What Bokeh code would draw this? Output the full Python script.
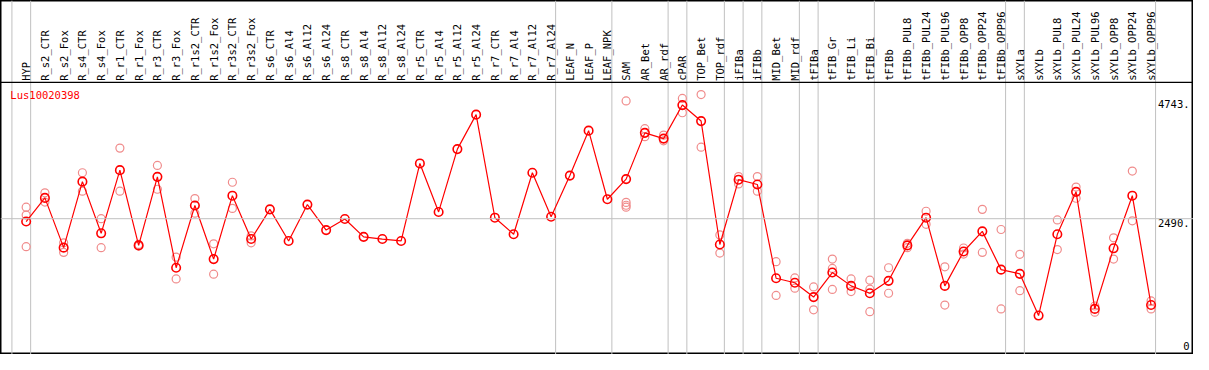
import math
from bokeh.plotting import figure
from bokeh.models import Range1d, Span, ColumnDataSource
from bokeh.core.properties import value
from bokeh.embed import file_html
from bokeh.resources import INLINE

# ---------------- data ----------------
categories = ["HYP", "R_s2_CTR", "R_s2_Fox", "R_s4_CTR", "R_s4_Fox", "R_r1_CTR", "R_r1_Fox",
              "R_r3_CTR", "R_r3_Fox", "R_r1s2_CTR", "R_r1s2_Fox", "R_r3s2_CTR", "R_r3s2_Fox",
              "R_s6_CTR", "R_s6_Al4", "R_s6_Al12", "R_s6_Al24", "R_s8_CTR", "R_s8_Al4",
              "R_s8_Al12", "R_s8_Al24", "R_r5_CTR", "R_r5_Al4", "R_r5_Al12", "R_r5_Al24",
              "R_r7_CTR", "R_r7_Al4", "R_r7_Al12", "R_r7_Al24", "LEAF_N", "LEAF_P", "LEAF_NPK",
              "SAM", "AR_Bet", "AR_rdf", "cPAR", "TOP_Bet", "TOP_rdf", "iFIBa", "iFIBb",
              "MID_Bet", "MID_rdf", "tFIBa", "tFIB_Gr", "tFIB_Li", "tFIB_Bi", "tFIBb",
              "tFIBb_PUL8", "tFIBb_PUL24", "tFIBb_PUL96", "tFIBb_OPP8", "tFIBb_OPP24",
              "tFIBb_OPP96", "sXYLa", "sXYLb", "sXYLb_PUL8", "sXYLb_PUL24", "sXYLb_PUL96",
              "sXYLb_OPP8", "sXYLb_OPP24", "sXYLb_OPP96"]

means = [2436, 2885, 1940, 3194, 2212, 3412, 1982, 3285, 1558, 2740, 1722, 2927, 2103,
         2667, 2067, 2758, 2273, 2485, 2145, 2103, 2067, 3540, 2618, 3812, 4467, 2509,
         2194, 3363, 2527, 3309, 4163, 2860, 3242, 4121, 4012, 4649, 4345, 2000, 3231,
         3140, 1358, 1273, 1000, 1467, 1213, 1073, 1309, 1982, 2509, 1213, 1867, 2249,
         1522, 1442, 649, 2194, 3000, 776, 1927, 2927, 849]

replicates = [
    [2709, 2558, 1958], [2982, 2805], [2031, 1849], [3363, 3012], [2491, 1940],
    [3831, 3012], [1969, 2000], [3503, 3049], [1758, 1345], [2872, 2594],
    [2013, 1436], [3182, 2685], [2163, 2031],
    [], [], [], [], [], [], [], [], [], [], [], [], [], [], [], [],
    [], [], [],
    [4727, 2800, 2745, 2709], [4200, 4049], [4078, 3969], [4776, 4503], [4849, 3849],
    [2182, 1836], [3291, 3151], [3291, 3012], [1673, 1031], [1364, 1169],
    [1194, 758], [1722, 1545, 1145], [1345, 1104], [1322, 1151, 722], [1558, 1073],
    [1940, 2022], [2631, 2382], [1576, 849], [1933, 1818], [2667, 1849], [2285, 776],
    [1813, 1122], [],
    [2467, 1903], [3091, 2878], [831, 714], [2127, 1722], [3394, 2449], [927, 776],
]

# group separators: drawn just after these 1-based category numbers (0 = left edge)
separators_after = [0, 1, 29, 32, 35, 36, 38, 39, 40, 42, 43, 46, 53, 54, 61]

tick_values = [4743, 2490, 0]
tick_labels = ["4743.", "2490.", "0"]
gene = "Lus10020398"

# ---------------- layout helpers (reference pixel -> data) ----------------
def px_x(px):
    return (px - 26.0) / 19.0

def py_y(py):
    return (365.0 - py) / 0.055

W, H = 1193, 354
p = figure(width=W, height=H, output_backend="svg", toolbar_location=None,
           x_range=Range1d(px_x(0), px_x(1209)), y_range=Range1d(py_y(370), py_y(0)),
           min_border=0, x_axis_location=None, y_axis_location=None)
p.grid.visible = False
p.background_fill_color = "white"
p.border_fill_color = "white"
p.outline_line_color = "black"
p.outline_line_width = 2

mono = value("DejaVu Sans Mono")
grey = "#c0c0c0"

# horizontal reference line at the middle tick
p.add_layout(Span(location=tick_values[1], dimension="width", line_color=grey, line_width=1))

# vertical group separators
sep_x = [k - 1 + 0.24 for k in separators_after]
p.segment(x0=sep_x, x1=sep_x, y0=[py_y(0)] * len(sep_x), y1=[py_y(370)] * len(sep_x),
          line_color=grey, line_width=1)

# header separator
p.add_layout(Span(location=py_y(85.5), dimension="width", line_color="black", line_width=1.3))

# header labels
xs = list(range(len(categories)))
p.text(x=xs, y=[py_y(84)] * len(xs), text=categories, angle=math.pi / 2,
       text_align="left", text_baseline="middle", text_font=mono,
       text_font_size="10.5px", text_color="black")

# replicate points
rx, ry = [], []
for i, reps in enumerate(replicates):
    for v in reps:
        rx.append(i)
        ry.append(v)
p.scatter(x=rx, y=ry, marker="circle", size=8, fill_color=None,
          line_color="#f08c8c", line_width=1.2)

# mean line and points
p.line(x=xs, y=means, line_color="red", line_width=1.2)
p.scatter(x=xs, y=means, marker="circle", size=8.5, fill_color=None,
          line_color="red", line_width=1.6)

# title
p.text(x=[px_x(10)], y=[py_y(92)], text=[gene], text_align="left", text_baseline="top",
       text_font=mono, text_font_size="10.5px", text_color="red")

# right-hand value labels
baselines = ["top", "top", "bottom"]
for v, lab, bl in zip(tick_values, tick_labels, baselines):
    p.text(x=[px_x(1205)], y=[v], text=[lab], text_align="right", text_baseline=bl,
           text_font=mono, text_font_size="10.5px", text_color="black")

open("out.html", "w").write(file_html(p, INLINE))
